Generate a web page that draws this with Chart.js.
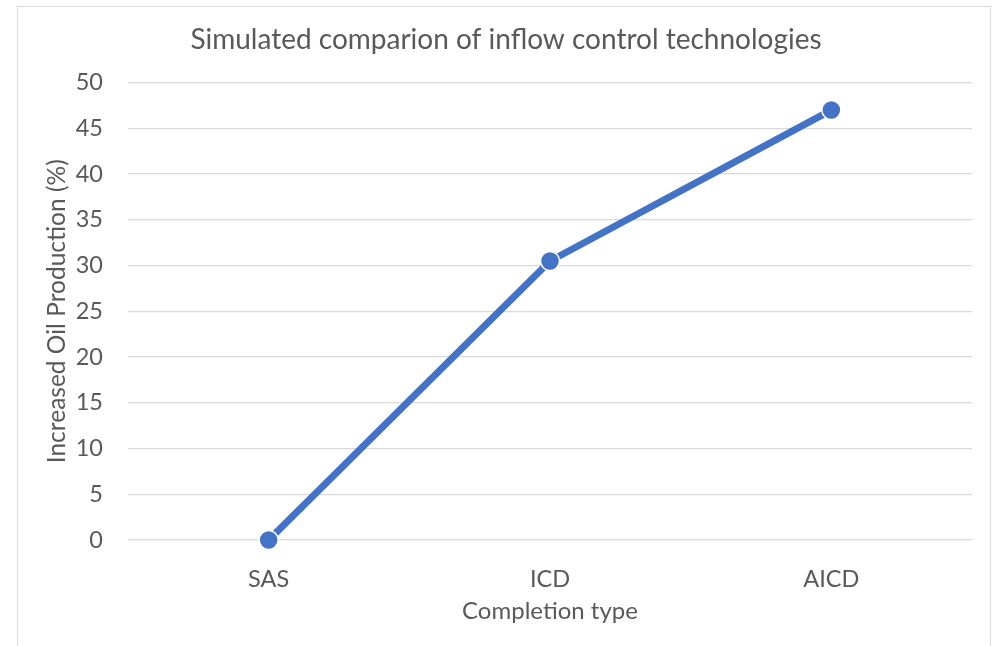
<!DOCTYPE html>
<html lang="en">
<head>
  <meta charset="UTF-8">
  <title>Simulated comparion of inflow control technologies</title>
  <style>
    * {
      margin: 0;
      padding: 0;
      box-sizing: border-box;
    }

    body {
      width: 994px;
      height: 646px;
      background-color: #fff;
      overflow: hidden;
      position: relative;
    }

    #frame {
      position: absolute;
      left: 17px;
      top: 6px;
      width: 974px;
      height: 660px;
      border: 1px solid #d9d9d9;
    }

    #wrap {
      position: absolute;
      left: 0;
      top: 0;
      width: 994px;
      height: 646px;
    }
  </style>
  <script src="https://cdn.jsdelivr.net/npm/chart.js"></script>
</head>
<body>
  <div id="frame"></div>
  <div id="wrap">
    <canvas id="chart" width="994" height="646"></canvas>
  </div>

  <script>
    // Chart data
    const categories = ['SAS', 'ICD', 'AICD'];
    const increasedOil = [0, 30.5, 47];
    const yTicks = [0, 5, 10, 15, 20, 25, 30, 35, 40, 45, 50];

    const textColor = '#595959';
    const fontFamily = 'Lato, "Open Sans", sans-serif';

    const ctx = document.getElementById('chart').getContext('2d');

    new Chart(ctx, {
      type: 'line',
      data: {
        labels: categories,
        datasets: [{
          label: 'Increased Oil Production (%)',
          data: increasedOil,
          borderColor: '#4472C4',
          backgroundColor: '#4472C4',
          borderWidth: 7,
          pointRadius: 9.5,
          pointHoverRadius: 9.5,
          pointBorderColor: '#ffffff',
          pointBorderWidth: 1.5,
          tension: 0,
          clip: false
        }]
      },
      options: {
        responsive: false,
        animation: false,
        layout: {
          padding: { left: 40, right: 22, top: 0, bottom: 0 }
        },
        plugins: {
          legend: { display: false },
          tooltip: { enabled: false },
          title: {
            display: true,
            text: 'Simulated comparion of inflow control technologies',
            color: textColor,
            font: { family: fontFamily, size: 28, weight: 'normal', lineHeight: 1.2 },
            padding: { top: 23, bottom: 26 }
          }
        },
        scales: {
          x: {
            offset: true,
            grid: { display: false, drawTicks: false },
            border: { display: false },
            ticks: {
              color: textColor,
              padding: 25,
              font: { family: fontFamily, size: 23.5 }
            },
            title: {
              display: true,
              text: 'Completion type',
              color: textColor,
              font: { family: fontFamily, size: 24, lineHeight: 1.2 },
              padding: { top: 0, bottom: 20.6 }
            },
            afterFit: (scale) => { scale.height = 106; }
          },
          y: {
            min: 0,
            max: 50,
            afterBuildTicks: (scale) => {
              scale.ticks = yTicks.map(v => ({ value: v }));
            },
            grid: { color: '#d9d9d9', lineWidth: 1.3, drawTicks: false },
            border: { display: false },
            ticks: {
              color: textColor,
              padding: 25,
              font: { family: fontFamily, size: 23.5 }
            },
            title: {
              display: true,
              text: 'Increased Oil Production (%)',
              color: textColor,
              font: { family: fontFamily, size: 24.5, lineHeight: 1.2 },
              padding: { top: 2, bottom: 0 }
            },
            afterFit: (scale) => { scale.width = 88; }
          }
        }
      }
    });
  </script>
</body>
</html>
